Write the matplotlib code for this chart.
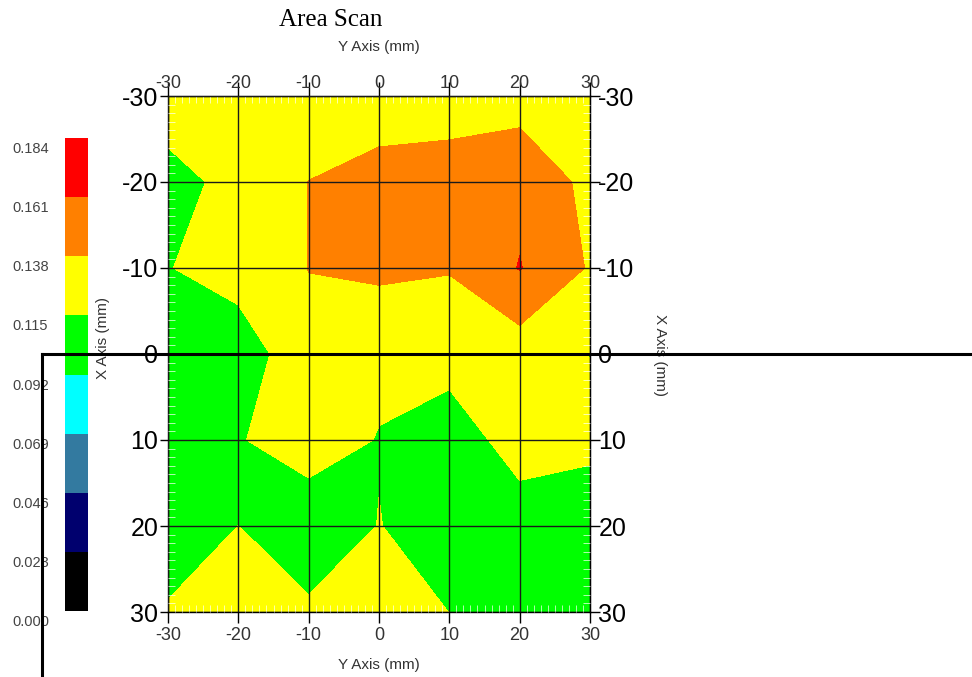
import numpy as np
import matplotlib as mpl
import matplotlib.pyplot as plt
import matplotlib.transforms as mtransforms
from matplotlib.colors import ListedColormap, BoundaryNorm
from matplotlib.lines import Line2D
from matplotlib.ticker import MultipleLocator, NullLocator

plt.rcParams['axes.unicode_minus'] = False
plt.rcParams['font.family'] = ['Liberation Sans', 'DejaVu Sans']

# scan grid (mm): x_mm runs down the plot, y_mm across
x_mm = [-30, -20, -10, 0, 10, 20, 30]
y_mm = [-30, -20, -10, 0, 10, 20, 30]

# measured value at each grid node, one list per X row
row_xm30 = [0.127, 0.127, 0.127, 0.122, 0.1234, 0.128, 0.127]
row_xm20 = [0.107, 0.122, 0.1382, 0.149, 0.152, 0.155, 0.132]
row_xm10 = [0.114, 0.127, 0.1382, 0.142, 0.1394, 0.162, 0.136]
row_x0 = [0.102, 0.099, 0.1346, 0.122, 0.122, 0.126, 0.1145]
row_x10 = [0.102, 0.113, 0.130, 0.1136, 0.105, 0.123, 0.122]
row_x20 = [0.097, 0.1151, 0.096, 0.1157, 0.102, 0.106, 0.098]
row_x30 = [0.118, 0.127, 0.1198, 0.127, 0.1148, 0.102, 0.102]

levels = [0.000, 0.023, 0.046, 0.069, 0.092, 0.115, 0.138, 0.161, 0.184]
band_colors = ['#000000', '#00006e', '#337aa0', '#00ffff',
               '#00ff00', '#ffff00', '#ff8000', '#ff0000']
ticks = [-30, -20, -10, 0, 10, 20, 30]

W, H = 972, 677


def fx(px):
    return px / W


def fy(py):
    return 1 - py / H


fig = plt.figure(figsize=(W / 100, H / 100), dpi=100)
ax = fig.add_axes([fx(168), fy(612), fx(590) - fx(168), fy(96) - fy(612)])

Z = np.array([row_xm30, row_xm20, row_xm10, row_x0, row_x10, row_x20, row_x30])
ax.contourf(y_mm, x_mm, Z, levels=levels, colors=band_colors)

ax.set_xlim(-30, 30)
ax.set_ylim(30, -30)
ax.set_xticks(ticks)
ax.set_yticks(ticks)
ax.xaxis.set_minor_locator(MultipleLocator(1))
ax.yaxis.set_minor_locator(MultipleLocator(1))
ax.set_axisbelow(False)
ax.grid(True, which='major', color='#1a1a1a', lw=1)
for s in ax.spines.values():
    s.set_color('black')
    s.set_linewidth(1)

ax.tick_params(axis='x', which='major', direction='out', length=8, width=1,
               pad=3, labelsize=13, labelcolor='#333333')
ax.tick_params(axis='y', which='major', direction='out', length=6, width=1,
               pad=1, labelsize=18)
ax.tick_params(which='minor', direction='in', length=5, width=0.6,
               color=(1, 1, 1, 0.8), top=True, right=True)

secx = ax.secondary_xaxis('top')
secx.set_xticks(ticks)
secx.xaxis.set_minor_locator(NullLocator())
secx.tick_params(direction='out', length=10, width=1, pad=-7,
                 labelsize=13, labelcolor='#333333')
secy = ax.secondary_yaxis('right')
secy.set_yticks(ticks)
secy.yaxis.set_minor_locator(NullLocator())
secy.tick_params(direction='out', length=7, width=1, pad=-1, labelsize=18)

# colour scale on the left
cax = fig.add_axes([fx(65), fy(611), fx(88) - fx(65), fy(138) - fy(611)])
cb = mpl.colorbar.ColorbarBase(cax, cmap=ListedColormap(band_colors),
                               norm=BoundaryNorm(levels, len(band_colors)),
                               orientation='vertical')
cb.outline.set_visible(False)
cb.set_ticks([])
cax.minorticks_off()
cax.tick_params(which='both', length=0, labelleft=False, labelright=False)
shift = mtransforms.ScaledTranslation(0, -11 / 100, fig.dpi_scale_trans)
trans = mtransforms.blended_transform_factory(fig.transFigure, cax.transAxes) + shift
for i, lev in enumerate(levels):
    cax.text(fx(12), i / (len(levels) - 1), f'{lev:.3f}', transform=trans,
             ha='left', va='center', fontsize=10.5, color='#444444')

fig.text(fx(331), fy(20), 'Area Scan', family='Liberation Serif', fontsize=18,
         ha='center', va='center')
fig.text(fx(379), fy(47), 'Y Axis (mm)', fontsize=11, ha='center', va='center',
         color='#333333')
fig.text(fx(379), fy(665), 'Y Axis (mm)', fontsize=11, ha='center', va='center',
         color='#333333')
fig.text(fx(103), fy(338), 'X Axis (mm)', fontsize=11, rotation=90,
         ha='center', va='center', color='#333333')
fig.text(fx(660), fy(355), 'X Axis (mm)', fontsize=11, rotation=270,
         ha='center', va='center', color='#333333')

# cursor cross-hair left on the screen
fig.add_artist(Line2D([fx(42), 1], [fy(354), fy(354)], transform=fig.transFigure,
                      color='black', lw=2.2, zorder=10))
fig.add_artist(Line2D([fx(42), fx(42)], [fy(354), 0], transform=fig.transFigure,
                      color='black', lw=2.2, zorder=10))

fig.savefig('out.png', dpi=100)
